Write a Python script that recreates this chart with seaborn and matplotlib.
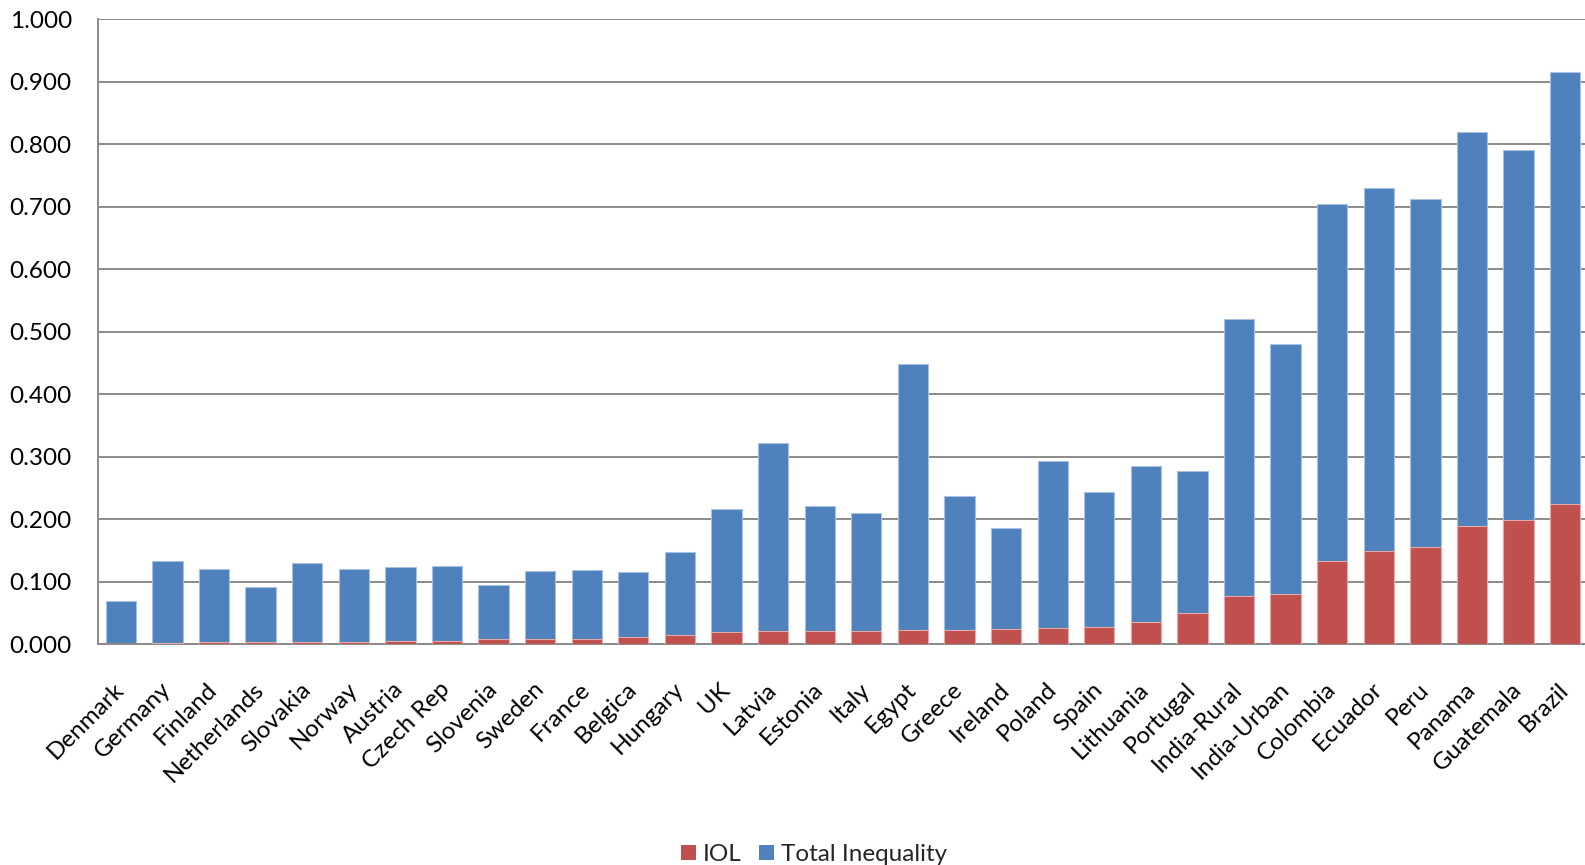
import matplotlib
matplotlib.use("Agg")
import matplotlib.pyplot as plt
from matplotlib.patches import Patch
from matplotlib.ticker import MultipleLocator, FormatStrFormatter
import seaborn as sns

countries = [
    "Denmark", "Germany", "Finland", "Netherlands", "Slovakia", "Norway",
    "Austria", "Czech Rep", "Slovenia", "Sweden", "France", "Belgica",
    "Hungary", "UK", "Latvia", "Estonia", "Italy", "Egypt", "Greece",
    "Ireland", "Poland", "Spain", "Lithuania", "Portugal", "India-Rural",
    "India-Urban", "Colombia", "Ecuador", "Peru", "Panama", "Guatemala",
    "Brazil",
]
total_inequality = [
    0.069, 0.133, 0.120, 0.092, 0.130, 0.121, 0.124, 0.126, 0.095, 0.118,
    0.119, 0.115, 0.147, 0.216, 0.322, 0.221, 0.210, 0.449, 0.237, 0.186,
    0.294, 0.244, 0.285, 0.278, 0.520, 0.480, 0.705, 0.730, 0.713, 0.820,
    0.791, 0.915,
]
iol = [
    0.001, 0.002, 0.003, 0.003, 0.003, 0.004, 0.005, 0.006, 0.008, 0.008,
    0.009, 0.011, 0.015, 0.019, 0.021, 0.021, 0.022, 0.023, 0.023, 0.024,
    0.026, 0.027, 0.035, 0.050, 0.077, 0.081, 0.133, 0.150, 0.156, 0.190,
    0.199, 0.224,
]
series_names = ["IOL", "Total Inequality"]

BLUE = "#4F81BD"
RED = "#C0504D"
GRID = "#8a8a8a"

sns.set_style("white")
plt.rcParams["font.family"] = ["Lato", "DejaVu Sans"]

fig = plt.figure(figsize=(15.85, 8.65), dpi=100)
ax = fig.add_axes([97.5 / 1585, 1 - 644.3 / 865, (1588.5 - 97.5) / 1585, (644.3 - 19.3) / 865])

# Total inequality bars, with the IOL part overlaid from zero
sns.barplot(x=countries, y=total_inequality, color=BLUE, saturation=1,
            width=0.65, edgecolor="#a9c1e0", linewidth=0.8, ax=ax, zorder=2)
sns.barplot(x=countries, y=iol, color=RED, saturation=1,
            width=0.65, edgecolor="#e3aaa9", linewidth=0.8, ax=ax, zorder=3)

ax.set_xlim(-0.5, len(countries) - 0.5)
ax.set_ylim(0, 1.0)
ax.yaxis.set_major_locator(MultipleLocator(0.1))
ax.yaxis.set_major_formatter(FormatStrFormatter("%.3f"))
ax.set_axisbelow(True)
ax.grid(axis="y", color=GRID, linewidth=1.4)
ax.grid(axis="x", visible=False)
ax.set_xlabel("")
ax.set_ylabel("")

for side in ("top", "right"):
    ax.spines[side].set_visible(False)
for side in ("left", "bottom"):
    ax.spines[side].set_color(GRID)
    ax.spines[side].set_linewidth(1.4)

ax.tick_params(axis="y", length=0, pad=18.5, labelsize=17.5, labelcolor="black")
ax.tick_params(axis="x", length=0, pad=30, labelsize=17.5, labelcolor="black")
for lbl in ax.get_xticklabels():
    lbl.set_rotation(45)
    lbl.set_ha("right")
    lbl.set_va("center")
    lbl.set_rotation_mode("anchor")

handles = [Patch(facecolor=RED, edgecolor="none"), Patch(facecolor=BLUE, edgecolor="none")]
fig.legend(handles, series_names, loc="center", bbox_to_anchor=(0.5136, 0.012),
           ncol=2, frameon=False, fontsize=17.5, handlelength=0.62,
           handleheight=0.62, handletextpad=0.3, columnspacing=0.7,
           borderaxespad=0, borderpad=0)

fig.savefig("out.png", dpi=100)
